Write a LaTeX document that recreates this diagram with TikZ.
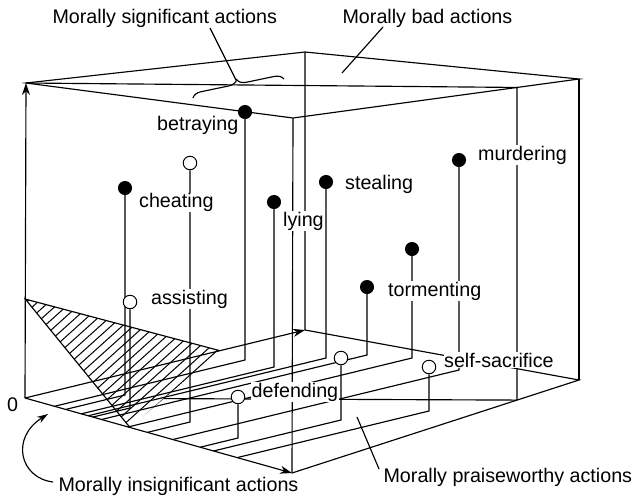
\documentclass[tikz,border=0pt]{standalone}
\usepackage{fontspec}
\setmainfont{Liberation Sans}
\usetikzlibrary{arrows.meta,calc,decorations.pathreplacing,backgrounds}
\begin{document}
\begin{tikzpicture}[x=1pt,y=-1pt,line width=1.15pt,
  txt/.style={font=\fontsize{19.7}{22}\selectfont,inner sep=0pt,anchor=base west},
  lbl/.style={txt,fill=white,inner sep=0.6pt},
  bad/.style={circle,fill=black,draw=black,line width=1pt,minimum size=13pt,inner sep=0pt},
  good/.style={circle,fill=white,draw=black,line width=1pt,minimum size=13.5pt,inner sep=0pt},
  axarrow/.style={-{Stealth[length=12pt,width=8pt]}},
  hatchline/.style={line width=1pt}]
\useasboundingbox (0,0) rectangle (636,496);

% box corners
\coordinate (O)  at (25,398);
\coordinate (TL) at (26,83);
\coordinate (TB) at (305,52);
\coordinate (TR) at (579,79);
\coordinate (TF) at (293,118);
\coordinate (BB) at (305,330);
\coordinate (BR) at (579,380);
\coordinate (BF) at (292,473);
\coordinate (D1) at ($(TF)!0.7832!(TR)$);
\coordinate (D2) at ($(BF)!0.784!(BR)$);
\coordinate (P1) at ($(O)!0.314!(TL)$);
\coordinate (P2) at ($(O)!0.696!(BB)$);
\coordinate (P3) at ($(O)!0.393!(BF)$);
\coordinate (H)  at (intersection of O--D2 and P2--P3);

% action dots
\node[bad]  (bet) at (245,112) {};
\node[good] (opa) at (190,163) {};
\node[bad]  (che) at (125,188) {};
\node[bad]  (lyi) at (274,202) {};
\node[bad]  (ste) at (326,182) {};
\node[bad]  (mur) at (459,160) {};
\node[bad]  (tob) at (412,249) {};
\node[bad]  (tor) at (367,287) {};
\node[good] (ass) at (130,302) {};
\node[good] (opb) at (341,358) {};
\node[good] (sel) at (429,367) {};
\node[good] (def) at (238,397) {};

\begin{scope}[on background layer]
\begin{scope}[line width=1.15pt]
  % box
  \draw (TL) -- (TB) -- (TR) -- (TF) -- cycle;
  \draw (TL) -- (D1) -- (D2);
  \draw (TB) -- (BB) -- (BR) -- (BF);
  \draw (TR) -- (BR);
  \draw (TF) -- (BF);
  \draw (H) -- (D2);
  \draw[axarrow] (O) -- (TL);
  \draw[axarrow] (O) -- (BB);
  \draw[axarrow] (O) -- (BF);
  % hatched plane
  \begin{scope}
    \clip (P1) -- (P2) -- (P3) -- cycle;
    \foreach \c in {326,336,...,560} \draw[hatchline] (0,\c) -- ++(400,-360);
  \end{scope}
  \draw (P2) -- (P1) -- (P3);
  % stems and floor lines
  \foreach \q/\fx/\fy in {bet/245/360, opa/190/422, che/125/395, lyi/274/367,
      ste/326/358, mur/459/370, tob/412/358, tor/367/355, ass/130/408,
      opb/341/420, sel/429/411, def/238/438} {
    \coordinate (\q F) at (\fx,\fy);
    \coordinate (\q G) at ($(\q F)+(O)-(BB)$);
    \coordinate (\q E) at (intersection of \q F--\q G and O--BF);
    \draw (\q.south) -- (\q F) -- (\q E);
  }
\end{scope}
\end{scope}

% labels of actions
\node[lbl] (lbet) at (156,130) {betraying};
\node[lbl] (lche) at (138,207.5) {cheating};
\node[lbl] (lass) at (150,304) {assisting};
\node[lbl] (llyi) at (282,226) {lying};
\node[lbl] (lste) at (344,189) {stealing};
\node[lbl] (lmur) at (477,160) {murdering};
\node[lbl] (ltor) at (387,296) {tormenting};
\node[lbl] (ldef) at (250.5,397) {defending};
\node[lbl] (lsel) at (443,367) {self-sacrifice};
\node[txt] (zero) at (6.5,411.5) {0};

% captions
\node[txt] (csig) at (52,23) {Morally significant actions};
\node[txt] (cbad) at (342,23) {Morally bad actions};
\node[txt] (cins) at (58,491) {Morally insignificant actions};
\node[txt] (cpra) at (383,482.5) {Morally praiseworthy actions};

% brace and leaders
\coordinate (brL) at (193,98);
\coordinate (brR) at (284,79);
\coordinate (brT) at (236,80);
\draw[decorate,decoration={brace,amplitude=9pt}] (brL) -- (brR);
\coordinate (sigA) at (210,28);
\draw (sigA) -- (brT);
\coordinate (badA) at (383,27);
\coordinate (badB) at (342,73);
\draw (badA) -- (badB);
\coordinate (praA) at (379,469);
\coordinate (praB) at (357,417);
\draw (praA) -- (praB);
\coordinate (insA) at (53,482);
\coordinate (insB) at (48,414);
\draw[-{Stealth[length=11pt,width=7pt]}] (insA) .. controls (20,478) and (10,438) .. (insB);
\end{tikzpicture}
\end{document}
